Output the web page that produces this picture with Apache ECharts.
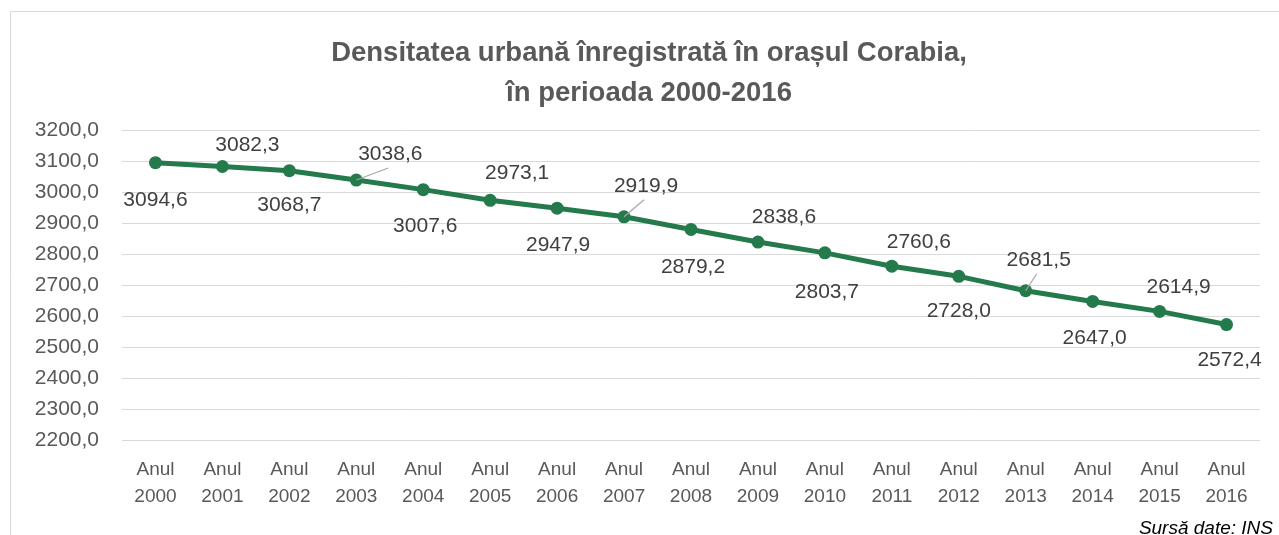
<!DOCTYPE html>
<html><head><meta charset="utf-8">
<script src="https://cdn.jsdelivr.net/npm/echarts@6/dist/echarts.min.js"></script>
<style>html,body{margin:0;padding:0;background:#fff}#c{width:1279px;height:535px}</style>
</head><body><div id="c"></div>
<script>
const categories = ['Anul\n2000','Anul\n2001','Anul\n2002','Anul\n2003','Anul\n2004','Anul\n2005','Anul\n2006','Anul\n2007','Anul\n2008','Anul\n2009','Anul\n2010','Anul\n2011','Anul\n2012','Anul\n2013','Anul\n2014','Anul\n2015','Anul\n2016'];
const density = [3094.6,3082.3,3068.7,3038.6,3007.6,2973.1,2947.9,2919.9,2879.2,2838.6,2803.7,2760.6,2728.0,2681.5,2647.0,2614.9,2572.4];
const titleText = 'Densitatea urbană înregistrată în orașul Corabia,\nîn perioada 2000-2016';
const sourceText = 'Sursă date: INS';
// label nudges (dx, dy) from the default "top" label position
const labelShift = [[0,60],[25,1],[0,57],[34,-4],[2,59],[27,-5],[1,59],[22,-9],[2,60],[26,-3],[2,61],[27,-2],[0,57],[13,-9],[2,59],[19,-2],[3,58]];
const leaderIdx = [3,7,13];

const fmt = v => v.toFixed(1).replace('.', ',');
const chart = echarts.init(document.getElementById('c'));
chart.setOption({
  animation: false,
  backgroundColor: '#fff',
  title: {
    text: titleText, left: 644, top: 28, textAlign: 'center',
    textStyle: {fontFamily: 'Liberation Sans', fontWeight: 'bold', fontSize: 27.5, color: '#595959', lineHeight: 40}
  },
  graphic: [
    {type: 'rect', shape: {x: 10.5, y: 11.5, width: 1300, height: 600}, style: {fill: 'none', stroke: '#D9D9D9', lineWidth: 1}, silent: true},
    {type: 'text', right: 6, bottom: -3, style: {text: sourceText, font: 'italic 19px "Liberation Sans"', fill: '#000'}}
  ],
  grid: {left: 122, right: 19, top: 130, bottom: 95},
  xAxis: {
    type: 'category', data: categories, boundaryGap: true,
    axisLine: {show: false}, axisTick: {show: false},
    axisLabel: {color: '#595959', fontFamily: 'Liberation Sans', fontSize: 19, lineHeight: 26.5, margin: 17}
  },
  yAxis: {
    type: 'value', min: 2200, max: 3200, interval: 100,
    axisLine: {show: false}, axisTick: {show: false},
    splitLine: {lineStyle: {color: '#D9D9D9', width: 1}},
    axisLabel: {color: '#595959', fontFamily: 'Liberation Sans', fontSize: 21, margin: 23, formatter: v => fmt(v)}
  },
  series: [{
    type: 'line',
    data: density,
    symbol: 'circle', symbolSize: 13,
    lineStyle: {color: '#257A4C', width: 5},
    itemStyle: {color: '#257A4C'},
    label: {show: true, position: 'top', distance: 5, color: '#404040', fontFamily: 'Liberation Sans', fontSize: 21, formatter: p => fmt(p.value)},
    labelLayout: p => ({dx: labelShift[p.dataIndex][0], dy: labelShift[p.dataIndex][1]})
  }, {
    type: 'custom', z: 5, silent: true,
    data: leaderIdx.map(i => [i, density[i]]),
    renderItem: (params, api) => {
      const i = api.value(0);
      const p = api.coord([i, api.value(1)]);
      const s = labelShift[i];
      return {type: 'line', shape: {x1: p[0], y1: p[1], x2: p[0] + s[0] - 2, y2: p[1] + s[1] - 8},
              style: {stroke: '#A6A6A6', lineWidth: 1.2}};
    }
  }]
});
</script></body></html>
